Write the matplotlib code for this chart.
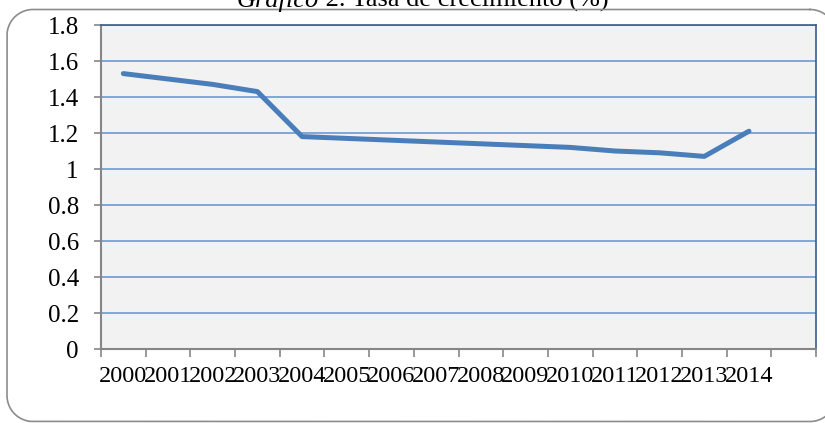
import numpy as np
import matplotlib
matplotlib.use("Agg")
import matplotlib.pyplot as plt
from matplotlib.lines import Line2D

years = ["2000", "2001", "2002", "2003", "2004", "2005", "2006", "2007",
         "2008", "2009", "2010", "2011", "2012", "2013", "2014"]
tasa = [1.53, 1.50, 1.47, 1.43, 1.18, 1.17, 1.16, 1.15,
        1.14, 1.13, 1.12, 1.10, 1.09, 1.07, 1.21]
yticks = [0, 0.2, 0.4, 0.6, 0.8, 1, 1.2, 1.4, 1.6, 1.8]
ytick_labels = ["0", "0.2", "0.4", "0.6", "0.8", "1", "1.2", "1.4", "1.6", "1.8"]

plt.rcParams['font.family'] = ['Liberation Serif', 'DejaVu Serif']

W, H = 825, 423
fig = plt.figure(figsize=(W / 100, H / 100), dpi=100)
ax = fig.add_axes([101/W, 74/H, 715/W, 324/H])


def rounded_rect(x0, y0, x1, y1, r, n=20):
    # corners in image pixels (y down), returns figure-fraction coords
    pts = []
    for cx, cy, a0 in [(x1 - r, y0 + r, -90), (x1 - r, y1 - r, 0),
                       (x0 + r, y1 - r, 90), (x0 + r, y0 + r, 180)]:
        a = np.radians(np.linspace(a0, a0 + 90, n))
        pts += list(zip(cx + r * np.cos(a), cy + r * np.sin(a)))
    pts.append(pts[0])
    px = np.array(pts)
    return px[:, 0] / W, 1 - px[:, 1] / H


bx, by = rounded_rect(7, 9.5, 836, 421.5, 26, n=40)
fig.add_artist(Line2D(bx, by, transform=fig.transFigure, color='#8c8c8c', lw=1.2))

ax.set_facecolor('#f2f2f2')
n_slots = len(years) + 1  # empty slot at the end
xs = [i + 0.5 for i in range(len(years))]
ax.plot(xs, tasa, color='#4a7ebb', lw=3.6, solid_capstyle='round', solid_joinstyle='round', zorder=3)

ax.set_xlim(0, n_slots)
ax.set_ylim(0, 1.8)
ax.set_yticks(yticks)
ax.set_yticklabels(ytick_labels, fontsize=18)
ax.yaxis.grid(True, color='#6a9ad8', lw=1.2)
ax.set_axisbelow(True)

ax.set_xticks(range(n_slots + 1))
ax.set_xticklabels([])
ax.set_xticks(xs, minor=True)
ax.set_xticklabels(years, minor=True, fontsize=17.5)
ax.tick_params(axis='x', which='minor', length=0, pad=12)
ax.tick_params(axis='x', which='major', length=6, width=1.2, color='#868686', direction='out')
ax.tick_params(axis='y', length=5, width=1.2, color='#868686', pad=11)

for s in ['left', 'bottom']:
    ax.spines[s].set_color('#868686')
    ax.spines[s].set_linewidth(1.5)
for s in ['top', 'right']:
    ax.spines[s].set_color('#385d8a')
    ax.spines[s].set_linewidth(1.2)

t1 = fig.text(237/W, 1 - 7/H, "Gráfico", style='italic', fontsize=19, va='baseline', ha='left')
fig.canvas.draw()
ax.annotate(" 2. Tasa de crecimiento (%)", xy=(1, 0), xycoords=t1, va='bottom', ha='left',
            fontsize=19, annotation_clip=False)

fig.savefig("out.png", dpi=100)
